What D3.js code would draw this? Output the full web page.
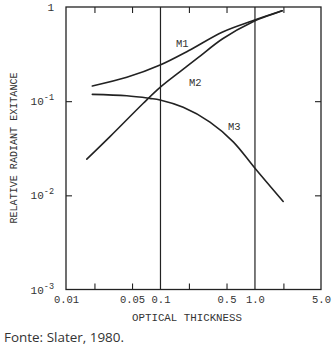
<!DOCTYPE html>
<html>
<head>
<meta charset="utf-8">
<script src="https://cdn.jsdelivr.net/npm/d3@7"></script>
<style>
  html, body { margin: 0; padding: 0; background: #fff; }
  svg { display: block; }
</style>
</head>
<body>
<svg id="chart" width="336" height="348"></svg>
<script>
// ---- data ----
const m1X = [0.019, 0.044, 0.099, 0.2, 0.455, 0.93, 1.94];
const m1Y = [0.145, 0.179, 0.242, 0.345, 0.543, 0.71, 0.91];

const m2X = [0.0166, 0.0292, 0.0658, 0.099, 0.16, 0.25, 0.455, 0.93, 1.94];
const m2Y = [0.0242, 0.042, 0.095, 0.14, 0.205, 0.29, 0.46, 0.69, 0.91];

const m3X = [0.019, 0.044, 0.077, 0.099, 0.174, 0.334, 0.589, 1.0, 1.99];
const m3Y = [0.118, 0.114, 0.107, 0.103, 0.086, 0.06, 0.037, 0.0194, 0.0086];

const seriesNames = ["M1", "M2", "M3"];
const labelPos = [[0.146, 0.376], [0.2, 0.145], [0.518, 0.0494]]; // label anchor in data units

const xLabelValues = [0.01, 0.05, 0.1, 0.5, 1, 5];
const xLabelTexts = ["0.01", "0.05", "0.1", "0.5", "1.0", "5.0"];
const xMinorTicks = [0.02, 0.05, 0.2, 0.5, 2];
const xGridLines = [0.1, 1];

const yTickValues = [1, 0.1, 0.01, 0.001];
const yTickBase = ["1", "10", "10", "10"];
const yTickExp = ["", "-1", "-2", "-3"];
const yMinorTicks = [0.1, 0.01];

const xTitle = "OPTICAL THICKNESS";
const yTitle = "RELATIVE RADIANT EXITANCE";
const caption = "Fonte: Slater, 1980.";

// ---- layout ----
const L = 66, R = 321, T = 7, B = 289.5;
const ink = "#222";
const textInk = "#333";
const mono = "'Liberation Mono', 'DejaVu Sans Mono', monospace";

const svg = d3.select("#chart");
const x = d3.scaleLog().domain([0.01, 5]).range([L, R]);
const y = d3.scaleLog().domain([0.001, 1]).range([B, T]);

// frame
svg.append("rect")
  .attr("x", L).attr("y", T).attr("width", R - L).attr("height", B - T)
  .attr("fill", "none").attr("stroke", ink).attr("stroke-width", 1.3);

// vertical reference lines
svg.selectAll("line.grid").data(xGridLines).join("line")
  .attr("class", "grid")
  .attr("x1", d => x(d)).attr("x2", d => x(d))
  .attr("y1", T).attr("y2", B)
  .attr("stroke", ink).attr("stroke-width", 1.2);

// minor ticks via axes
function styleTicks(g) {
  g.select(".domain").remove();
  g.selectAll(".tick line").attr("stroke", ink).attr("stroke-width", 1.1);
}
svg.append("g").attr("transform", `translate(0,${B})`)
  .call(d3.axisBottom(x).tickValues(xMinorTicks).tickSize(-6).tickFormat(""))
  .call(styleTicks);
svg.append("g").attr("transform", `translate(0,${T})`)
  .call(d3.axisTop(x).tickValues(xMinorTicks).tickSize(-6).tickFormat(""))
  .call(styleTicks);
svg.append("g").attr("transform", `translate(${L},0)`)
  .call(d3.axisLeft(y).tickValues(yMinorTicks).tickSize(-6).tickFormat(""))
  .call(styleTicks);
svg.append("g").attr("transform", `translate(${R},0)`)
  .call(d3.axisRight(y).tickValues(yMinorTicks).tickSize(-6).tickFormat(""))
  .call(styleTicks);

// x tick labels
const xl = svg.append("g").attr("transform", `translate(0,${B})`)
  .call(d3.axisBottom(x).tickValues(xLabelValues).tickSize(0).tickPadding(6)
    .tickFormat((d, i) => xLabelTexts[i]));
xl.select(".domain").remove();
xl.selectAll("text").attr("font-family", mono).attr("font-size", 10.5).attr("fill", textInk);

// y tick labels with superscripts
const yl = svg.append("g");
yTickValues.forEach((v, i) => {
  const t = yl.append("text")
    .attr("x", 54).attr("y", y(v) + 4)
    .attr("text-anchor", "end")
    .attr("font-family", mono).attr("font-size", 11).attr("fill", textInk);
  t.append("tspan").text(yTickBase[i]);
  if (yTickExp[i]) {
    t.append("tspan").attr("dy", -5).attr("font-size", 8.5).text(yTickExp[i]);
  }
});

// curves
const lineGen = d3.line().x(d => x(d[0])).y(d => y(d[1])).curve(d3.curveCatmullRom.alpha(0.5));
const series = [
  d3.zip(m1X, m1Y),
  d3.zip(m2X, m2Y),
  d3.zip(m3X, m3Y)
];
svg.selectAll("path.curve").data(series).join("path")
  .attr("class", "curve")
  .attr("d", lineGen)
  .attr("fill", "none").attr("stroke", ink).attr("stroke-width", 1.6)
  .attr("stroke-linecap", "round");

// series labels
svg.selectAll("text.slab").data(seriesNames).join("text")
  .attr("class", "slab")
  .attr("x", (d, i) => x(labelPos[i][0]))
  .attr("y", (d, i) => y(labelPos[i][1]))
  .attr("font-family", mono).attr("font-size", 10.5).attr("fill", textInk)
  .text(d => d);

// axis titles
svg.append("text")
  .attr("x", 187).attr("y", 321)
  .attr("text-anchor", "middle")
  .attr("font-family", mono).attr("font-size", 11).attr("fill", textInk)
  .attr("textLength", 110).attr("lengthAdjust", "spacingAndGlyphs")
  .text(xTitle);

svg.append("text")
  .attr("transform", "translate(17,148) rotate(-90)")
  .attr("text-anchor", "middle")
  .attr("font-family", mono).attr("font-size", 10.5).attr("fill", textInk)
  .attr("textLength", 151).attr("lengthAdjust", "spacingAndGlyphs")
  .text(yTitle);

// caption
svg.append("text")
  .attr("x", 4).attr("y", 342)
  .attr("font-family", "'Open Sans', 'Noto Sans', sans-serif").attr("font-size", 13)
  .attr("fill", "#333")
  .attr("textLength", 120).attr("lengthAdjust", "spacingAndGlyphs")
  .text(caption);
</script>
</body>
</html>
